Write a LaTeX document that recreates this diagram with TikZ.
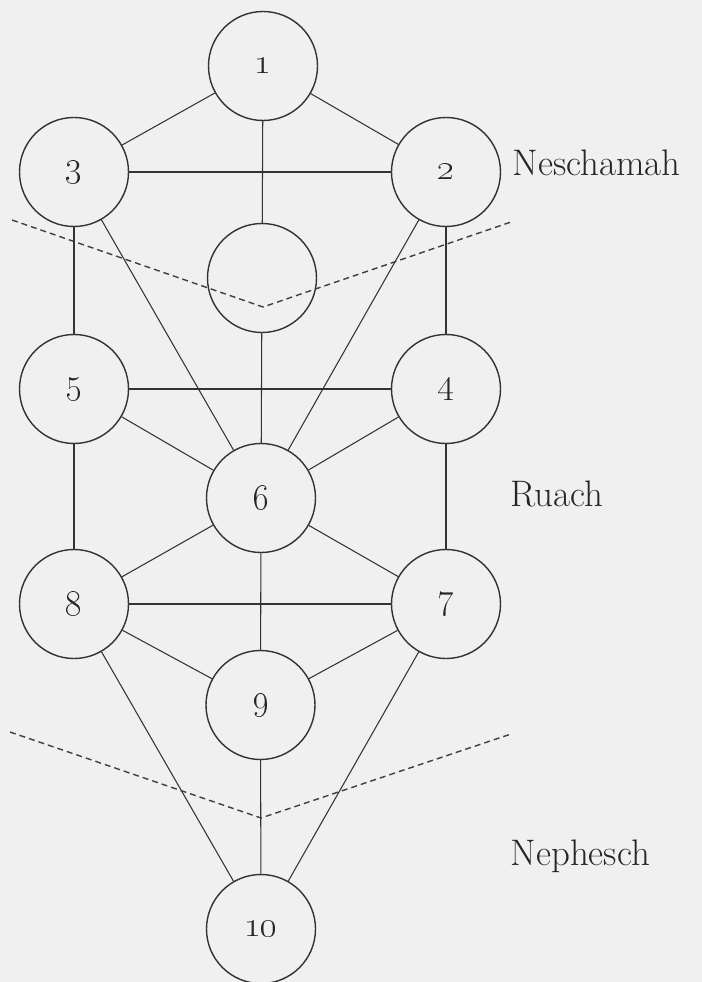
\documentclass[tikz,border=0pt]{standalone}

\begin{document}
\begin{tikzpicture}[
  every node/.style={circle, draw=black!80, line width=0.8pt, minimum size=2.18cm,
                     inner sep=0pt, text=black!85, font=\fontsize{20}{24}\selectfont},
  link/.style={draw=black!80, line width=0.6pt},
  divide/.style={draw=black!75, line width=0.8pt, dash pattern=on 3.4pt off 2.3pt},
  lab/.style={draw=none, rectangle, minimum size=0pt, anchor=base west,
              font=\fontsize{21}{25}\selectfont}
]

% page
\useasboundingbox (0,0) rectangle (14.04,-19.64);
\fill[black!6] (0,0) rectangle (14.04,-19.64);

% =======================
% Sephiroth
% =======================
\node (S1) at (5.26, -1.32) {\oldstylenums{1}};
\node (S3) at (1.48, -3.44) {\oldstylenums{3}};
\node (S2) at (8.92, -3.44) {\oldstylenums{2}};

\node (Sx) at (5.24, -5.56) {};

\node (S5) at (1.48, -7.78) {\oldstylenums{5}};
\node (S4) at (8.92, -7.78) {\oldstylenums{4}};
\node (S6) at (5.22, -9.96) {\oldstylenums{6}};

\node (S8) at (1.48,-12.08) {\oldstylenums{8}};
\node (S7) at (8.92,-12.08) {\oldstylenums{7}};
\node (S9) at (5.21,-14.10) {\oldstylenums{9}};

\node (S10) at (5.22,-18.58) {\oldstylenums{10}};

% Paths between them
\foreach \u/\v in {S1/S3,S1/S2,S1/Sx,S3/S2,S3/S5,S3/S6,S2/S4,S2/S6,Sx/S6,
                   S5/S4,S5/S6,S4/S6,S5/S8,S4/S7,S6/S8,S6/S7,S6/S9,
                   S8/S7,S8/S9,S7/S9,S8/S10,S7/S10,S9/S10}{
  \draw[link] (\u)--(\v);
}

% =======================
% Divisions
% =======================
\coordinate (U1) at ( 0.24, -4.40);
\coordinate (U2) at ( 5.26, -6.14);
\coordinate (U3) at (10.22, -4.44);
\draw[divide] (U1)--(U2)--(U3);

\coordinate (L1) at ( 0.20,-14.64);
\coordinate (L2) at ( 5.22,-16.36);
\coordinate (L3) at (10.22,-14.68);
\draw[divide] (L1)--(L2)--(L3);

\node[lab] (neschamah) at (10.24, -3.52) {Neschamah};
\node[lab] (ruach)     at (10.20,-10.12) {Ruach};
\node[lab] (nephesch)  at (10.20,-17.30) {Nephesch};

\end{tikzpicture}
\end{document}
